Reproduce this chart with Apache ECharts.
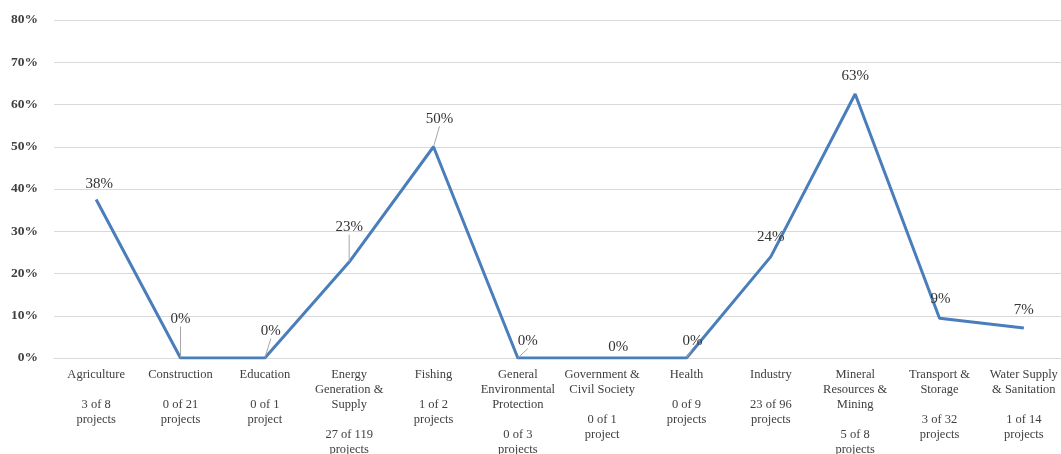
<!DOCTYPE html>
<html><head><meta charset="utf-8">
<script src="https://cdn.jsdelivr.net/npm/echarts@6/dist/echarts.min.js"></script>
<style>html,body{margin:0;padding:0;background:#fff}#c{width:1061px;height:454px}</style>
</head><body><div id="c"></div>
<script>
const categories = [
  "Agriculture\n\n3 of 8\nprojects",
  "Construction\n\n0 of 21\nprojects",
  "Education\n\n0 of 1\nproject",
  "Energy\nGeneration &\nSupply\n\n27 of 119\nprojects",
  "Fishing\n\n1 of 2\nprojects",
  "General\nEnvironmental\nProtection\n\n0 of 3\nprojects",
  "Government &\nCivil Society\n\n0 of 1\nproject",
  "Health\n\n0 of 9\nprojects",
  "Industry\n\n23 of 96\nprojects",
  "Mineral\nResources &\nMining\n\n5 of 8\nprojects",
  "Transport &\nStorage\n\n3 of 32\nprojects",
  "Water Supply\n& Sanitation\n\n1 of 14\nprojects"
];
const shares = [37.5, 0, 0, 22.7, 50, 0, 0, 0, 24.0, 62.5, 9.4, 7.1];
const yTicks = [0, 10, 20, 30, 40, 50, 60, 70, 80];
// label nudges (dx, dy) relative to default 'top' position, and whether a leader line shows
const labelNudge = [[3,-4],[0,-27],[6,-15],[0,-23],[6,-16],[10,-5],[16,1],[6,-5],[0,-8],[0,-6],[1,-7],[0,-6]];
const leader = [false,true,true,true,true,true,false,true,false,false,false,false];

const chart = echarts.init(document.getElementById('c'));
const serif = "'Liberation Serif', 'DejaVu Serif', serif";
chart.setOption({
  animation: false,
  grid: { left: 54, right: -5, top: 20, bottom: 96, containLabel: false, outerBoundsMode: 'none' },
  xAxis: {
    type: 'category', data: categories, boundaryGap: true,
    axisLine: { lineStyle: { color: '#d9d9d9', width: 1 } },
    axisTick: { show: false },
    axisLabel: { interval: 0, fontFamily: serif, fontSize: 12.5, lineHeight: 15, color: '#404040', margin: 9 }
  },
  yAxis: {
    type: 'value', min: 0, max: 80, interval: 10,
    axisLine: { show: false }, axisTick: { show: false },
    splitLine: { lineStyle: { color: '#d9d9d9', width: 1 } },
    axisLabel: { formatter: v => yTicks.includes(v) ? v + '%' : '', fontFamily: serif, fontWeight: 'bold', fontSize: 13.5, color: '#404040', margin: 16 }
  },
  series: [{
    type: 'line',
    data: shares.map((v, i) => ({ value: v, labelLine: { show: leader[i] } })),
    symbol: 'circle', symbolSize: 1, showSymbol: true,
    itemStyle: { color: 'rgba(0,0,0,0)' },
    lineStyle: { color: '#4a7ebb', width: 3 },
    label: { show: true, position: 'top', distance: 4, fontFamily: serif, fontSize: 15, color: '#333333',
      formatter: p => Math.round(p.value) + '%' },
    labelLine: { show: true, lineStyle: { color: '#a6a6a6', width: 1 } },
    labelLayout: p => ({ dx: labelNudge[p.dataIndex][0], dy: labelNudge[p.dataIndex][1] }),
    emphasis: { disabled: true }
  }]
});
</script></body></html>
